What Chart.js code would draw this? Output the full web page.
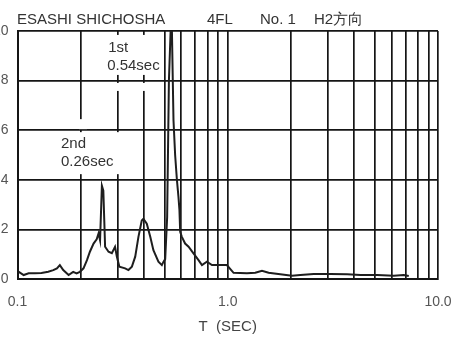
<!DOCTYPE html>
<html>
<head>
<meta charset="utf-8">
<script src="https://cdn.jsdelivr.net/npm/chart.js@4/dist/chart.umd.min.js"></script>
<style>
  html, body { margin: 0; padding: 0; background: #fff; }
  #wrap { width: 454px; height: 337px; }
</style>
</head>
<body>
<div id="wrap"><canvas id="spectrum"></canvas></div>
<script>
// period T (sec) and response amplitude
var periods = [0.101, 0.107, 0.113, 0.121, 0.130, 0.140, 0.148, 0.154, 0.159, 0.165, 0.175, 0.184, 0.191, 0.198,
    0.206, 0.214, 0.221, 0.230, 0.238, 0.243, 0.247, 0.252, 0.256, 0.261, 0.271, 0.281, 0.291, 0.297, 0.305,
    0.325, 0.337, 0.350, 0.363, 0.376, 0.390, 0.397, 0.412, 0.428, 0.443, 0.468, 0.486, 0.495, 0.504,
    0.515, 0.525, 0.540, 0.552, 0.562, 0.573, 0.583, 0.589, 0.594, 0.605, 0.627, 0.651, 0.687, 0.726,
    0.754, 0.796, 0.841, 0.904, 0.973, 0.990, 1.066, 1.234, 1.352, 1.455, 1.564, 1.778, 2.02, 2.213,
    2.562, 3.076, 3.695, 4.276, 5.134, 6.16, 6.87, 7.26];
var amplitudes = [0.30, 0.16, 0.23, 0.23, 0.24, 0.29, 0.36, 0.43, 0.56, 0.36, 0.16, 0.29, 0.23, 0.29,
    0.43, 0.76, 1.10, 1.43, 1.60, 1.84, 1.56, 3.76, 3.56, 1.30, 1.10, 1.04, 1.30, 0.90, 0.50,
    0.43, 0.36, 0.50, 0.90, 1.70, 2.36, 2.43, 2.23, 1.70, 1.16, 0.70, 0.56, 0.70, 0.80,
    2.5, 8.0, 11.0, 6.4, 5.0, 4.0, 3.3, 2.8, 1.9, 1.7, 1.43, 1.30, 1.03, 0.76,
    0.56, 0.70, 0.56, 0.56, 0.56, 0.56, 0.25, 0.23, 0.25, 0.33, 0.25, 0.19, 0.13, 0.16,
    0.20, 0.20, 0.19, 0.16, 0.16, 0.13, 0.16, 0.12];

var xGridValues = [0.1, 0.2, 0.3, 0.4, 0.5, 0.6, 0.7, 0.8, 0.9, 1, 2, 3, 4, 5, 6, 7, 8, 9, 10];
var xTickLabels = { "0.1": "0.1", "1": "1.0", "10": "10.0" };
var yTickValues = [0, 2, 4, 6, 8, 10];

var titleParts = [
    { text: "ESASHI SHICHOSHA", x: 17 },
    { text: "4FL", x: 207 },
    { text: "No. 1", x: 260 },
    { text: "H2方向", x: 314 }
];

// notes: anchored at a data point, covering boxes in pixels relative to it
var notes = [
    { t: 0.267, v: 9.64, lines: ["1st", "0.54sec"], boxes: [[-5, -5, 59, 40], [-5, 43, 59, 8]], indent: [1, 0] },
    { t: 0.161, v: 5.76, lines: ["2nd", "0.26sec"], boxes: [[-4, -4, 63, 42], [18, -17, 8, 10]], indent: [0, 0] }
];

var FONT = "'Liberation Sans', Arial, sans-serif";

var points = periods.map(function (t, i) { return { x: t, y: amplitudes[i] }; });

var textPlugin = {
    id: "textPlugin",
    beforeDatasetsDraw: function (chart) {
        var c = chart.ctx, xs = chart.scales.x, ys = chart.scales.y;
        c.save();
        c.font = "15px " + FONT;
        c.textBaseline = "top";
        c.textAlign = "left";
        notes.forEach(function (n) {
            var px = xs.getPixelForValue(n.t), py = ys.getPixelForValue(n.v);
            c.fillStyle = "#fff";
            n.boxes.forEach(function (b) {
                c.fillRect(px + b[0], py + b[1], b[2], b[3]);
            });
            c.fillStyle = "#333";
            n.lines.forEach(function (line, i) {
                c.fillText(line, px + n.indent[i], py + i * 18);
            });
        });
        titleParts.forEach(function (p) {
            c.fillText(p.text, p.x, 12);
        });
        c.restore();
    }
};

new Chart(document.getElementById("spectrum"), {
    type: "scatter",
    data: {
        datasets: [{
            data: points,
            showLine: true,
            borderColor: "#1e1e1e",
            borderWidth: 2,
            pointRadius: 0,
            tension: 0
        }]
    },
    options: {
        responsive: true,
        maintainAspectRatio: false,
        animation: false,
        layout: { padding: { top: 31, right: 16, left: 0, bottom: 0 } },
        plugins: { legend: { display: false }, tooltip: { enabled: false }, title: { display: false } },
        scales: {
            x: {
                type: "logarithmic",
                min: 0.1,
                max: 10,
                afterBuildTicks: function (axis) {
                    axis.ticks = xGridValues.map(function (v) { return { value: v }; });
                },
                afterFit: function (axis) {
                    axis.height = 58;
                    axis.paddingLeft = 0;
                    axis.paddingRight = 0;
                },
                grid: { color: "#151515", lineWidth: 1.7, drawTicks: false },
                border: { color: "#151515", width: 2 },
                ticks: {
                    autoSkip: false,
                    maxRotation: 0,
                    padding: 15,
                    color: "#555",
                    font: { family: FONT, size: 14 },
                    callback: function (v) {
                        var key = String(Math.round(v * 10) / 10);
                        return xTickLabels[key] || "";
                    }
                },
                title: {
                    display: true,
                    text: "T  (SEC)",
                    color: "#444",
                    font: { family: FONT, size: 15 },
                    padding: { top: 0, bottom: 1 }
                }
            },
            y: {
                min: 0,
                max: 10,
                afterBuildTicks: function (axis) {
                    axis.ticks = yTickValues.map(function (v) { return { value: v }; });
                },
                afterFit: function (axis) { axis.width = 17.5; },
                grid: { color: "#151515", lineWidth: 1.7, drawTicks: false },
                border: { color: "#151515", width: 2 },
                ticks: {
                    padding: 9,
                    color: "#555",
                    font: { family: FONT, size: 14 }
                }
            }
        }
    },
    plugins: [textPlugin]
});
</script>
</body>
</html>
